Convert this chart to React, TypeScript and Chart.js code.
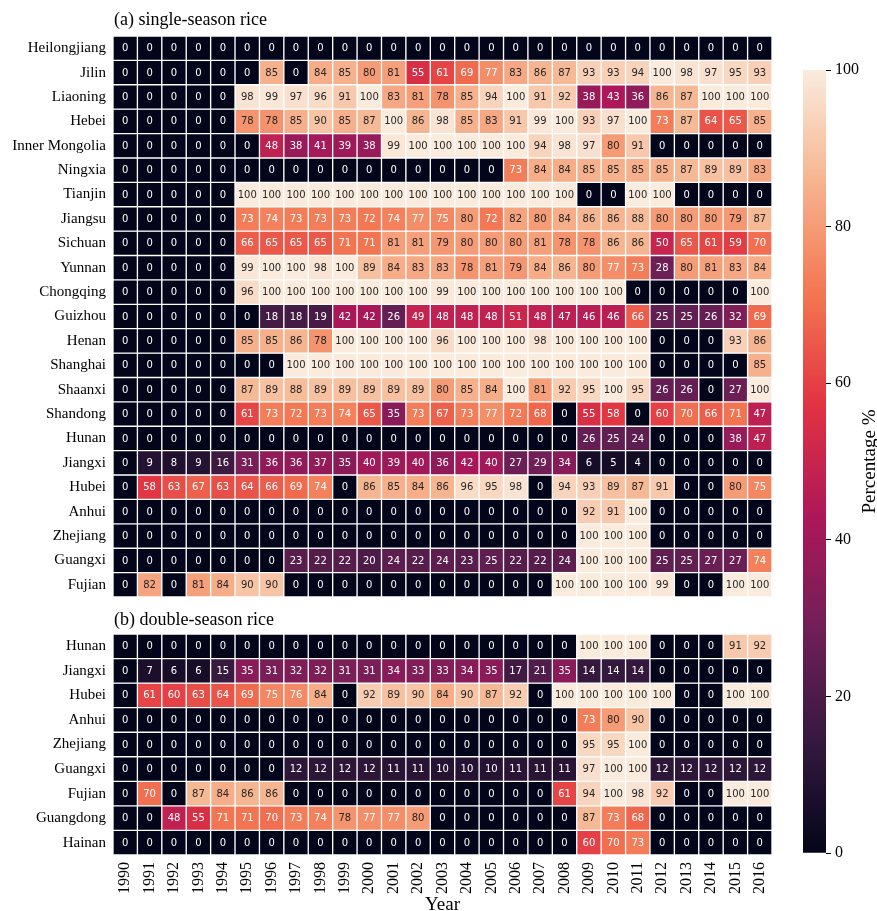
import React, { useEffect, useRef } from 'react';
import { Chart, registerables } from 'chart.js';
Chart.register(...registerables);

const FONT_SERIF = '"Liberation Serif", "Times New Roman", serif';
const FONT_ANNOT = '"DejaVu Sans", sans-serif';

const years = ['1990','1991','1992','1993','1994','1995','1996','1997','1998','1999','2000','2001','2002','2003','2004','2005','2006','2007','2008','2009','2010','2011','2012','2013','2014','2015','2016'];

const singleRegions = ['Heilongjiang','Jilin','Liaoning','Hebei','Inner Mongolia','Ningxia','Tianjin','Jiangsu','Sichuan','Yunnan','Chongqing','Guizhou','Henan','Shanghai','Shaanxi','Shandong','Hunan','Jiangxi','Hubei','Anhui','Zhejiang','Guangxi','Fujian'];

const singleValues: number[][] = [
  [0,0,0,0,0,0,0,0,0,0,0,0,0,0,0,0,0,0,0,0,0,0,0,0,0,0,0],
  [0,0,0,0,0,0,85,0,84,85,80,81,55,61,69,77,83,86,87,93,93,94,100,98,97,95,93],
  [0,0,0,0,0,98,99,97,96,91,100,83,81,78,85,94,100,91,92,38,43,36,86,87,100,100,100],
  [0,0,0,0,0,78,78,85,90,85,87,100,86,98,85,83,91,99,100,93,97,100,73,87,64,65,85],
  [0,0,0,0,0,0,48,38,41,39,38,99,100,100,100,100,100,94,98,97,80,91,0,0,0,0,0],
  [0,0,0,0,0,0,0,0,0,0,0,0,0,0,0,0,73,84,84,85,85,85,85,87,89,89,83],
  [0,0,0,0,0,100,100,100,100,100,100,100,100,100,100,100,100,100,100,0,0,100,100,0,0,0,0],
  [0,0,0,0,0,73,74,73,73,73,72,74,77,75,80,72,82,80,84,86,86,88,80,80,80,79,87],
  [0,0,0,0,0,66,65,65,65,71,71,81,81,79,80,80,80,81,78,78,86,86,50,65,61,59,70],
  [0,0,0,0,0,99,100,100,98,100,89,84,83,83,78,81,79,84,86,80,77,73,28,80,81,83,84],
  [0,0,0,0,0,96,100,100,100,100,100,100,100,99,100,100,100,100,100,100,100,0,0,0,0,0,100],
  [0,0,0,0,0,0,18,18,19,42,42,26,49,48,48,48,51,48,47,46,46,66,25,25,26,32,69],
  [0,0,0,0,0,85,85,86,78,100,100,100,100,96,100,100,100,98,100,100,100,100,0,0,0,93,86],
  [0,0,0,0,0,0,0,100,100,100,100,100,100,100,100,100,100,100,100,100,100,100,0,0,0,0,85],
  [0,0,0,0,0,87,89,88,89,89,89,89,89,80,85,84,100,81,92,95,100,95,26,26,0,27,100],
  [0,0,0,0,0,61,73,72,73,74,65,35,73,67,73,77,72,68,0,55,58,0,60,70,66,71,47],
  [0,0,0,0,0,0,0,0,0,0,0,0,0,0,0,0,0,0,0,26,25,24,0,0,0,38,47],
  [0,9,8,9,16,31,36,36,37,35,40,39,40,36,42,40,27,29,34,6,5,4,0,0,0,0,0],
  [0,58,63,67,63,64,66,69,74,0,86,85,84,86,96,95,98,0,94,93,89,87,91,0,0,80,75],
  [0,0,0,0,0,0,0,0,0,0,0,0,0,0,0,0,0,0,0,92,91,100,0,0,0,0,0],
  [0,0,0,0,0,0,0,0,0,0,0,0,0,0,0,0,0,0,0,100,100,100,0,0,0,0,0],
  [0,0,0,0,0,0,0,23,22,22,20,24,22,24,23,25,22,22,24,100,100,100,25,25,27,27,74],
  [0,82,0,81,84,90,90,0,0,0,0,0,0,0,0,0,0,0,100,100,100,100,99,0,0,100,100],
];

const doubleRegions = ['Hunan','Jiangxi','Hubei','Anhui','Zhejiang','Guangxi','Fujian','Guangdong','Hainan'];

const doubleValues: number[][] = [
  [0,0,0,0,0,0,0,0,0,0,0,0,0,0,0,0,0,0,0,100,100,100,0,0,0,91,92],
  [0,7,6,6,15,35,31,32,32,31,31,34,33,33,34,35,17,21,35,14,14,14,0,0,0,0,0],
  [0,61,60,63,64,69,75,76,84,0,92,89,90,84,90,87,92,0,100,100,100,100,100,0,0,100,100],
  [0,0,0,0,0,0,0,0,0,0,0,0,0,0,0,0,0,0,0,73,80,90,0,0,0,0,0],
  [0,0,0,0,0,0,0,0,0,0,0,0,0,0,0,0,0,0,0,95,95,100,0,0,0,0,0],
  [0,0,0,0,0,0,0,12,12,12,12,11,11,10,10,10,11,11,11,97,100,100,12,12,12,12,12],
  [0,70,0,87,84,86,86,0,0,0,0,0,0,0,0,0,0,0,61,94,100,98,92,0,0,100,100],
  [0,0,48,55,71,71,70,73,74,78,77,77,80,0,0,0,0,0,0,87,73,68,0,0,0,0,0],
  [0,0,0,0,0,0,0,0,0,0,0,0,0,0,0,0,0,0,0,60,70,73,0,0,0,0,0],
];

const colorbarTicks = [0, 20, 40, 60, 80, 100];

// approximate seaborn "rocket" colormap stops
const STOPS: [number, number[]][] = [
  [0, [3, 5, 26]],
  [1 / 7, [53, 25, 62]],
  [2 / 7, [112, 31, 87]],
  [3 / 7, [173, 23, 89]],
  [4 / 7, [225, 51, 66]],
  [5 / 7, [243, 118, 81]],
  [6 / 7, [246, 180, 143]],
  [1, [250, 235, 221]],
];

function cmap(t: number): number[] {
  const x = Math.max(0, Math.min(1, t));
  for (let i = 1; i < STOPS.length; i++) {
    const [t1, c1] = STOPS[i];
    const [t0, c0] = STOPS[i - 1];
    if (x <= t1) {
      const f = (x - t0) / (t1 - t0);
      return [0, 1, 2].map((k) => Math.round(c0[k] + (c1[k] - c0[k]) * f));
    }
  }
  return STOPS[STOPS.length - 1][1];
}
const rgbStr = (c: number[]) => `rgb(${c[0]},${c[1]},${c[2]})`;
function luminance(c: number[]) {
  const l = c.map((v) => {
    const s = v / 255;
    return s <= 0.03928 ? s / 12.92 : Math.pow((s + 0.055) / 1.055, 2.4);
  });
  return 0.2126 * l[0] + 0.7152 * l[1] + 0.0722 * l[2];
}

function annotPlugin(values: number[][]) {
  return {
    id: 'annot',
    afterDatasetsDraw(chart: any) {
      const { ctx } = chart;
      const xs = chart.scales.x;
      const ys = chart.scales.y;
      ctx.save();
      ctx.font = `10px ${FONT_ANNOT}`;
      ctx.textAlign = 'center';
      ctx.textBaseline = 'middle';
      values.forEach((row, r) => {
        row.forEach((v, j) => {
          const c = cmap(v / 100);
          ctx.fillStyle = luminance(c) > 0.408 ? '#262626' : '#ffffff';
          ctx.fillText(String(v), xs.getPixelForValue(j), ys.getPixelForValue(r) + 0.5);
        });
      });
      ctx.restore();
    },
  };
}

function titlePlugin(text: string, offset: number) {
  return {
    id: 'panelTitle',
    afterDraw(chart: any) {
      const { ctx, chartArea } = chart;
      ctx.save();
      ctx.font = `18px ${FONT_SERIF}`;
      ctx.fillStyle = '#000';
      ctx.textAlign = 'left';
      ctx.textBaseline = 'middle';
      ctx.fillText(text, chartArea.left + 1, chartArea.top - offset);
      ctx.restore();
    },
  };
}

function makeHeatmap(
  canvas: HTMLCanvasElement,
  rows: string[],
  values: number[][],
  title: string,
  showX: boolean,
  padTop: number,
  padBottom: number,
  titleOffset: number,
  xHeight: number
) {
  const n = rows.length;
  const datasets = rows.map((name, r) => ({
    label: name,
    data: years.map(() => [r - 0.5, r + 0.5]),
    backgroundColor: values[r].map((v) => rgbStr(cmap(v / 100))),
    borderColor: '#ffffff',
    borderWidth: 1,
    borderSkipped: false,
    grouped: false,
    barPercentage: 1,
    categoryPercentage: 1,
  }));
  return new Chart(canvas, {
    type: 'bar',
    data: { labels: years, datasets: datasets as any },
    options: {
      responsive: false,
      animation: false,
      layout: { padding: { left: 0, right: 18, top: padTop, bottom: padBottom } },
      plugins: { legend: { display: false }, tooltip: { enabled: false }, title: { display: false } },
      scales: {
        x: {
          type: 'category',
          display: showX,
          offset: true,
          grid: { display: false, drawTicks: false, tickLength: 0 },
          border: { display: false },
          ticks: {
            minRotation: 90,
            maxRotation: 90,
            autoSkip: false,
            padding: 7,
            color: '#000',
            font: { family: FONT_SERIF, size: 16 },
          },
          title: {
            display: showX,
            text: 'Year',
            color: '#000',
            font: { family: FONT_SERIF, size: 19, lineHeight: 1 },
            padding: 0,
          },
          afterFit: (s: any) => {
            s.height = xHeight;
          },
        },
        y: {
          type: 'linear',
          reverse: true,
          min: -0.5,
          max: n - 0.5,
          grid: { display: false, drawTicks: false, tickLength: 0 },
          border: { display: false },
          afterBuildTicks: (s: any) => {
            s.ticks = rows.map((_, i) => ({ value: i }));
          },
          ticks: {
            autoSkip: false,
            padding: 7,
            color: '#000',
            font: { family: FONT_SERIF, size: 15 },
            callback: (v: any) => rows[v as number],
          },
          afterFit: (s: any) => {
            s.width = 113;
          },
        },
      } as any,
    },
    plugins: [annotPlugin(values), titlePlugin(title, titleOffset)],
  });
}

function makeColorbar(canvas: HTMLCanvasElement) {
  return new Chart(canvas, {
    type: 'bar',
    data: {
      labels: [''],
      datasets: [
        {
          data: [[colorbarTicks[0], colorbarTicks[colorbarTicks.length - 1]]] as any,
          backgroundColor: (ctx: any) => {
            const chart = ctx.chart;
            const a = chart.chartArea;
            if (!a) return '#000';
            const g = chart.ctx.createLinearGradient(0, a.bottom, 0, a.top);
            STOPS.forEach(([t, c]) => g.addColorStop(t, rgbStr(c)));
            return g;
          },
          borderWidth: 0,
          barPercentage: 1,
          categoryPercentage: 1,
        },
      ],
    },
    options: {
      responsive: false,
      animation: false,
      layout: { padding: { left: 23, right: 0, top: 70, bottom: 58 } },
      plugins: { legend: { display: false }, tooltip: { enabled: false } },
      scales: {
        x: { display: false },
        y: {
          position: 'right',
          min: 0,
          max: 100,
          afterBuildTicks: (s: any) => {
            s.ticks = colorbarTicks.map((v) => ({ value: v }));
          },
          ticks: { padding: 4, color: '#000', font: { family: FONT_SERIF, size: 16 } },
          grid: { display: true, drawOnChartArea: false, drawTicks: true, tickLength: 5, color: '#000', lineWidth: 1 },
          border: { display: false },
          afterFit: (s: any) => {
            s.width = 51;
          },
        },
      } as any,
    },
    plugins: [
      {
        id: 'cbLabel',
        afterDraw(chart: any) {
          const { ctx, chartArea } = chart;
          ctx.save();
          ctx.translate(90, (chartArea.top + chartArea.bottom) / 2);
          ctx.rotate(-Math.PI / 2);
          ctx.font = `19px ${FONT_SERIF}`;
          ctx.fillStyle = '#000';
          ctx.textAlign = 'center';
          ctx.textBaseline = 'middle';
          ctx.fillText('Percentage %', 0, 0);
          ctx.restore();
        },
      },
    ],
  });
}

export default function App() {
  const topRef = useRef<HTMLCanvasElement>(null);
  const botRef = useRef<HTMLCanvasElement>(null);
  const barRef = useRef<HTMLCanvasElement>(null);
  useEffect(() => {
    const charts = [
      makeHeatmap(topRef.current!, singleRegions, singleValues, '(a) single-season rice', false, 36, 4, 16, 0),
      makeHeatmap(botRef.current!, doubleRegions, doubleValues, '(b) double-season rice', true, 34, 0, 14, 60),
      makeColorbar(barRef.current!),
    ];
    return () => charts.forEach((c) => c.destroy());
  }, []);
  return (
    <div style={{ position: 'fixed', left: 0, top: 0, width: 877, height: 911, overflow: 'hidden', background: '#fff' }}>
      <canvas ref={topRef} width={790} height={613} style={{ position: 'absolute', left: 0, top: 0 }} />
      <canvas ref={botRef} width={790} height={315} style={{ position: 'absolute', left: 0, top: 600 }} />
      <canvas ref={barRef} width={97} height={911} style={{ position: 'absolute', left: 780, top: 0 }} />
    </div>
  );
}
